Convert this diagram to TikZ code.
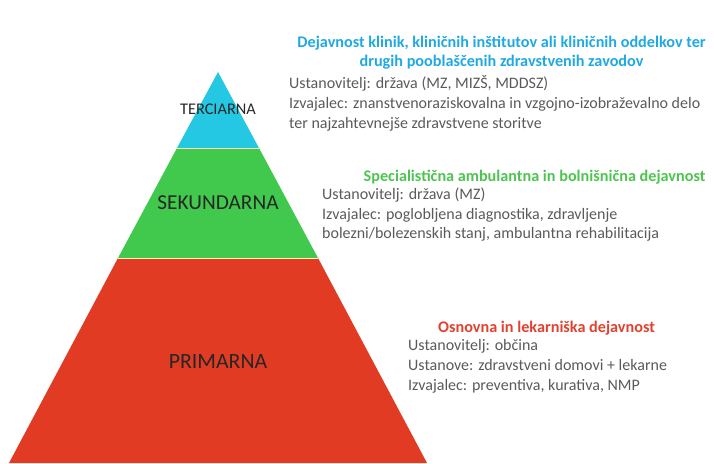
\documentclass[tikz,border=0pt]{standalone}
\usepackage{fontspec}
\setmainfont{Carlito}
\usetikzlibrary{positioning}
\definecolor{tercc}{HTML}{24C8E2}
\definecolor{sekc}{HTML}{40C94C}
\definecolor{primc}{HTML}{E23B24}
\definecolor{tercht}{HTML}{1FA9E3}
\definecolor{sekht}{HTML}{4DC450}
\definecolor{primht}{HTML}{E2412F}
\definecolor{infot}{HTML}{5A5A5A}

\begin{document}
\begin{tikzpicture}[x=1pt,y=-1pt,
	level/.style={text=black!85,inner sep=0},
	head/.style={font=\bfseries\fontsize{16.2}{19.2}\selectfont,align=center,inner sep=0},
	info/.style={font=\fontsize{16}{19.7}\selectfont,align=left,text=infot,anchor=north west,inner sep=0}]
	\useasboundingbox (0,0) rectangle (714,463);
	% pyramid
	\coordinate (T) at (218,72);
	\coordinate (L1) at (177,148); \coordinate (R1) at (259,148);
	\coordinate (L2) at (118,258); \coordinate (R2) at (318,258);
	\coordinate (L3) at (9,463); \coordinate (R3) at (427,463);
	\fill[tercc] (T) -- (R1) -- (L1) -- cycle;
	\fill[sekc] (L1) -- (R1) -- (R2) -- (L2) -- cycle;
	\fill[primc] (L2) -- (R2) -- (R3) -- (L3) -- cycle;
	\draw[white!70!yellow,line width=.8pt] (L1) -- (R1) (L2) -- (R2);
	\node[level,font=\fontsize{16.3}{18}\selectfont] (terc) at (218,109) {TERCIARNA};
	\node[level,font=\fontsize{21.3}{24}\selectfont] (sek) at (218,203) {SEKUNDARNA};
	\node[level,font=\fontsize{21.8}{24}\selectfont] (prim) at (218,362) {PRIMARNA};
	% descriptions
	\node[head,text=tercht] (tercH) at (501.5,53) {Dejavnost klinik, kliničnih inštitutov ali kliničnih oddelkov ter\\drugih pooblaščenih zdravstvenih zavodov};
	\node[head,text=sekht] (sekH) at (534.5,177) {Specialistična ambulantna in bolnišnična dejavnost};
	\node[head,text=primht] (primH) at (546.5,328) {Osnovna in lekarniška dejavnost};
	\node[info] (tercI) at (289,75.5) {Ustanovitelj: država (MZ, MIZŠ, MDDSZ)\\Izvajalec: znanstvenoraziskovalna in vzgojno-izobraževalno delo\\ter najzahtevnejše zdravstvene storitve};
	\node[info] (sekI) at (322,187.5) {Ustanovitelj: država (MZ)\\Izvajalec: poglobljena diagnostika, zdravljenje\\bolezni/bolezenskih stanj, ambulantna rehabilitacija};
	\node[info] (primI) at (408,339.5) {Ustanovitelj: občina\\Ustanove: zdravstveni domovi + lekarne\\Izvajalec: preventiva, kurativa, NMP};
\end{tikzpicture}
\end{document}
